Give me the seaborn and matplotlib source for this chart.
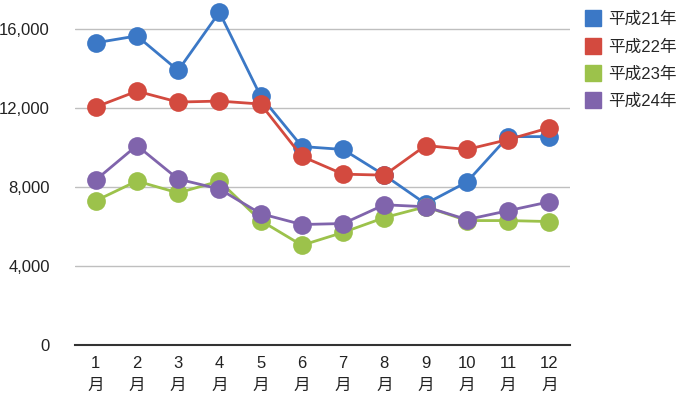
import matplotlib
matplotlib.use("Agg")
import matplotlib.pyplot as plt
from matplotlib.lines import Line2D
import seaborn as sns
import pandas as pd

months = ["1\n月", "2\n月", "3\n月", "4\n月", "5\n月", "6\n月", "7\n月", "8\n月", "9\n月", "10\n月", "11\n月", "12\n月"]
series_names = ["平成21年", "平成22年", "平成23年", "平成24年"]
h21 = [15300, 15650, 13900, 16850, 12600, 10050, 9900, 8600, 7150, 8250, 10550, 10550]
h22 = [12050, 12850, 12300, 12350, 12200, 9550, 8650, 8600, 10100, 9900, 10400, 11000]
h23 = [7300, 8300, 7700, 8300, 6300, 5050, 5700, 6450, 7000, 6300, 6300, 6250]
h24 = [8350, 10100, 8400, 7900, 6650, 6100, 6150, 7100, 7000, 6350, 6800, 7250]
yticks = [0, 4000, 8000, 12000, 16000]

colors = ["#3B78C6", "#D34A3F", "#9CC24B", "#8064AC"]

rows = []
for name, vals in zip(series_names, [h21, h22, h23, h24]):
    for i, v in enumerate(vals):
        rows.append({"idx": i, "value": v, "year": name})
df = pd.DataFrame(rows)

sns.set_theme(style="white")
plt.rcParams['font.family'] = ['Liberation Sans', 'Noto Sans CJK JP', 'DejaVu Sans']

fig = plt.figure(figsize=(6.87, 3.94), dpi=100)
ax = fig.add_axes([75/687, 49/394, 495/687, 345/394])

sns.lineplot(data=df, x="idx", y="value", hue="year", hue_order=series_names,
             palette=colors, marker="o", markersize=13.5, markeredgewidth=0,
             linewidth=2.0, ax=ax, legend=False, clip_on=False)

ax.set_xlim(-0.5, 11.5)
ax.set_ylim(0, 17468)
ax.set_yticks(yticks)
ax.set_yticklabels([f"{v:,}" for v in yticks], fontsize=12, color="#222222")
ax.set_xticks(range(12))
ax.set_xticklabels(months, fontsize=12, color="#222222", linespacing=1.55)
ax.tick_params(axis="both", length=0)
ax.tick_params(axis="y", pad=18)
ax.tick_params(axis="x", pad=8)
ax.set_xlabel("")
ax.set_ylabel("")
for y in yticks[1:]:
    ax.axhline(y, color="#BFBFBF", linewidth=1.0, zorder=0)
for s in ["top", "right", "left"]:
    ax.spines[s].set_visible(False)
ax.spines["bottom"].set_color("#333333")
ax.spines["bottom"].set_linewidth(1.5)

handles = [Line2D([0], [0], marker="s", linestyle="", color=c, markersize=11) for c in colors]
fig.legend(handles, series_names, loc="upper left", bbox_to_anchor=(568/687, 1.008),
           frameon=False, fontsize=12, handletextpad=0.3, labelspacing=0.72,
           handlelength=1.2)

fig.savefig("out.png", dpi=100)
